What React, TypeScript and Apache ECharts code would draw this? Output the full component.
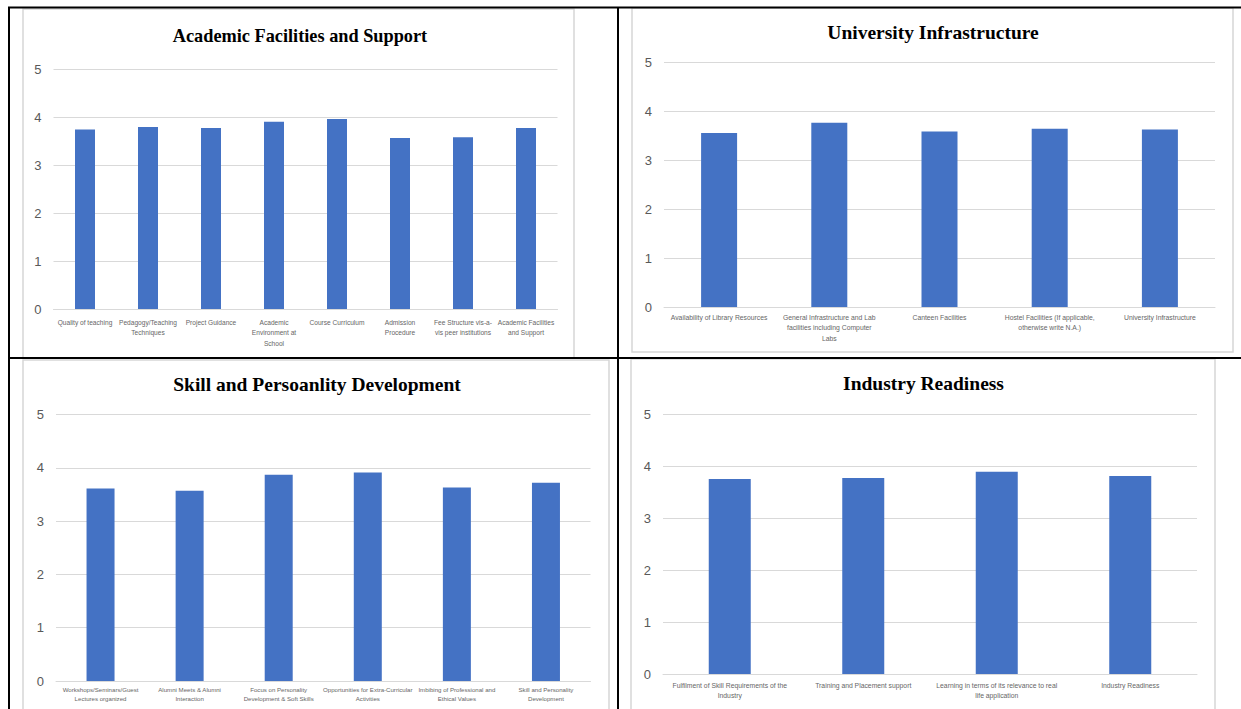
import React, { useEffect, useRef } from "react";
import * as echarts from "echarts";

const titles = [
  "Academic Facilities and Support",
  "University Infrastructure",
  "Skill and Persoanlity Development",
  "Industry Readiness",
];

const academicCategories = [
  "Quality of teaching",
  "Pedagogy/Teaching\nTechniques",
  "Project Guidance",
  "Academic\nEnvironment at\nSchool",
  "Course Curriculum",
  "Admission\nProcedure",
  "Fee Structure vis-a-\nvis peer institutions",
  "Academic Facilities\nand Support",
];
const academicValues = [3.74, 3.79, 3.77, 3.9, 3.96, 3.56, 3.58, 3.77];

const infraCategories = [
  "Availability of Library Resources",
  "General Infrastructure and Lab\nfacilities including Computer\nLabs",
  "Canteen Facilities",
  "Hostel Facilities (If applicable,\notherwise write N.A.)",
  "University Infrastructure",
];
const infraValues = [3.55, 3.76, 3.58, 3.64, 3.62];

const skillCategories = [
  "Workshops/Seminars/Guest\nLectures organized",
  "Alumni Meets & Alumni\nInteraction",
  "Focus on Personality\nDevelopment & Soft Skills",
  "Opportunities for Extra-Curricular\nActivities",
  "Imbibing of Professional and\nEthical Values",
  "Skill and Personality\nDevelopment",
];
const skillValues = [3.61, 3.57, 3.87, 3.91, 3.63, 3.72];

const industryCategories = [
  "Fulfilment of Skill Requirements of the\nIndustry",
  "Training and Placement support",
  "Learning in terms of its relevance to real\nlife application",
  "Industry Readiness",
];
const industryValues = [3.75, 3.77, 3.89, 3.81];

const yTicks = [0, 1, 2, 3, 4, 5];

const W = 1241;
const H = 709;
const BAR = "#4472c4";
const GRID = "#d9d9d9";
const LABEL = "#595959";
const SANS = "'Liberation Sans', Arial, sans-serif";
const SERIF = "'Liberation Serif', 'Times New Roman', serif";

export default function App() {
  const ref = useRef<HTMLDivElement>(null);

  useEffect(() => {
    if (!ref.current) return;
    const chart = echarts.init(ref.current, undefined, { renderer: "svg", width: W, height: H });

    const grids = [
      { left: 53.5, top: 69, width: 504, height: 240 },
      { left: 664, top: 62, width: 551, height: 245 },
      { left: 56, top: 414.5, width: 534.5, height: 266.5 },
      { left: 663, top: 414, width: 534, height: 260 },
    ];
    const cats = [academicCategories, infraCategories, skillCategories, industryCategories];
    const vals = [academicValues, infraValues, skillValues, industryValues];
    const barWidths = [20, 36, 28, 42];
    const labelFont = [6.6, 6.8, 6.1, 6.8];
    const labelLine = [10.5, 10.5, 9, 10];
    const labelMargin = [8, 5, 4, 6];

    const xAxis = cats.map((c, i) => ({
      type: "category",
      gridIndex: i,
      data: c,
      axisLine: { show: true, lineStyle: { color: GRID, width: 1 } },
      axisTick: { show: false },
      axisLabel: {
        interval: 0,
        color: "#666666",
        fontFamily: SANS,
        fontSize: labelFont[i],
        lineHeight: labelLine[i],
        margin: labelMargin[i],
        verticalAlign: "top",
      },
    }));

    const yAxis = grids.map((_, i) => ({
      type: "value",
      gridIndex: i,
      min: yTicks[0],
      max: yTicks[yTicks.length - 1],
      interval: 1,
      axisLine: { show: false },
      axisTick: { show: false },
      axisLabel: { color: LABEL, fontFamily: SANS, fontSize: 13, margin: 12 },
      splitLine: { show: true, lineStyle: { color: GRID, width: 1 } },
    }));

    const series = vals.map((v, i) => ({
      type: "bar",
      xAxisIndex: i,
      yAxisIndex: i,
      data: v,
      barWidth: barWidths[i],
      itemStyle: { color: BAR },
      silent: true,
    }));

    const boxes = [
      { x: 23, y: 9, w: 551, h: 349 },
      { x: 632, y: 8, w: 601, h: 344 },
      { x: 23, y: 360, w: 586, h: 360 },
      { x: 631, y: 359, w: 584, h: 360 },
    ];
    const titlePos = [
      { x: 300, y: 36 },
      { x: 933, y: 32 },
      { x: 317, y: 384 },
      { x: 923.5, y: 383 },
    ];
    const titleSize = [18.3, 19.5, 19.5, 19.5];

    const graphic: any[] = [];
    boxes.forEach((b) => {
      graphic.push({
        type: "rect",
        shape: { x: b.x, y: b.y, width: b.w, height: b.h },
        style: { fill: "#ffffff", stroke: "#d6d6d6", lineWidth: 1.5 },
        z: -10,
        silent: true,
      });
    });
    titles.forEach((t, i) => {
      graphic.push({
        type: "text",
        x: titlePos[i].x,
        y: titlePos[i].y,
        style: {
          text: t,
          fill: "#000000",
          font: `bold ${titleSize[i]}px ${SERIF}`,
          textAlign: "center",
          textVerticalAlign: "middle",
        },
        silent: true,
      });
    });
    const blackLines = [
      [8, 7.5, W, 7.5],
      [9, 7, 9, H],
      [618, 7, 618, H],
      [8, 358, W, 358],
    ];
    blackLines.forEach((l) => {
      graphic.push({
        type: "line",
        shape: { x1: l[0], y1: l[1], x2: l[2], y2: l[3] },
        style: { stroke: "#000000", lineWidth: 2 },
        z: 100,
        silent: true,
      });
    });

    chart.setOption({
      animation: false,
      backgroundColor: "#ffffff",
      grid: grids,
      xAxis,
      yAxis,
      series,
      graphic,
    });

    return () => chart.dispose();
  }, []);

  return (
    <div
      ref={ref}
      style={{ position: "fixed", left: 0, top: 0, width: W, height: H, background: "#fff" }}
    />
  );
}
